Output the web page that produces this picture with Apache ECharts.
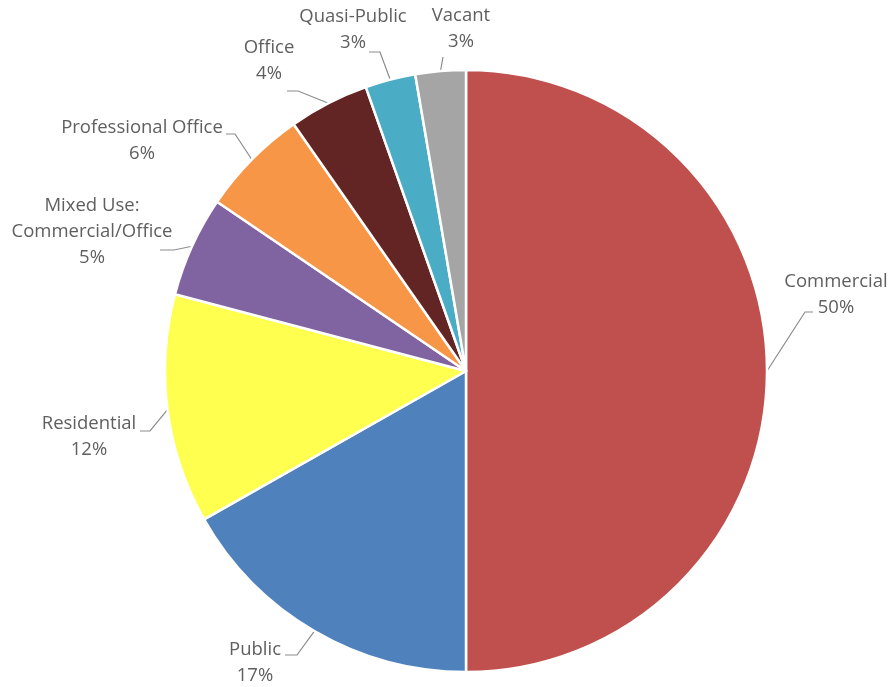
<!DOCTYPE html>
<html>
<head>
<meta charset="utf-8">
<script src="https://cdn.jsdelivr.net/npm/echarts@6/dist/echarts.min.js"></script>
<style>
html,body{margin:0;padding:0;background:#fff;}
#chart{width:893px;height:687px;}
</style>
</head>
<body>
<div id="chart"></div>
<script>
// Data
const categories = ['Commercial', 'Public', 'Residential', 'Mixed Use:\nCommercial/Office', 'Professional Office', 'Office', 'Quasi-Public', 'Vacant'];
const shares = [50, 16.8, 12.3, 5.4, 5.8, 4.3, 2.7, 2.7];

// Styles
const sliceColors = ['#C0504D', '#4F81BD', '#FFFF4F', '#8064A2', '#F79646', '#632523', '#4BACC6', '#A5A5A5'];
// label block centres and label-line end/elbow (x, y, elbowX)
const labelCenters = [[836, 295], [255, 663], [89, 437], [92, 232], [142, 141], [269, 61], [353, 30], [461, 29]];
const lineEnds = [[813, 312, 805], [285, 655, 297], [140, 431, 150], [160, 250, 174], [226, 134, 235], [287, 91, 298], [369, 52, 380], [443, 57, 443]];

const chart = echarts.init(document.getElementById('chart'));
const seriesData = categories.map((c, i) => ({
  name: c,
  value: shares[i],
  itemStyle: { color: sliceColors[i] }
}));

chart.setOption({
  animation: false,
  backgroundColor: '#ffffff',
  series: [{
    type: 'pie',
    center: [466, 371],
    radius: [0, 301],
    startAngle: 90,
    clockwise: true,
    avoidLabelOverlap: false,
    percentPrecision: 0,
    data: seriesData,
    itemStyle: { borderColor: '#ffffff', borderWidth: 2.5 },
    label: {
      show: true,
      position: 'outside',
      formatter: function (p) {
        const lines = p.name.split('\n');
        lines.push(Math.round(p.percent) + '%');
        return lines.map(l => '{a|' + l + '}').join('\n');
      },
      rich: {
        a: { fontFamily: 'Open Sans', fontSize: 18.5, color: '#5F5F5F', lineHeight: 26, align: 'center' }
      }
    },
    labelLine: {
      show: true,
      length: 15,
      length2: 10,
      lineStyle: { color: '#8C8C8C', width: 1.2 }
    },
    labelLayout: function (p) {
      const i = p.dataIndex;
      const c = labelCenters[i];
      const e = lineEnds[i];
      const out = { x: c[0], y: c[1], align: 'center', verticalAlign: 'middle' };
      if (p.labelLinePoints && p.labelLinePoints.length) {
        const s = p.labelLinePoints[0];
        out.labelLinePoints = [[s[0], s[1]], [e[2], e[1]], [e[0], e[1]]];
      }
      return out;
    }
  }]
});
</script>
</body>
</html>
